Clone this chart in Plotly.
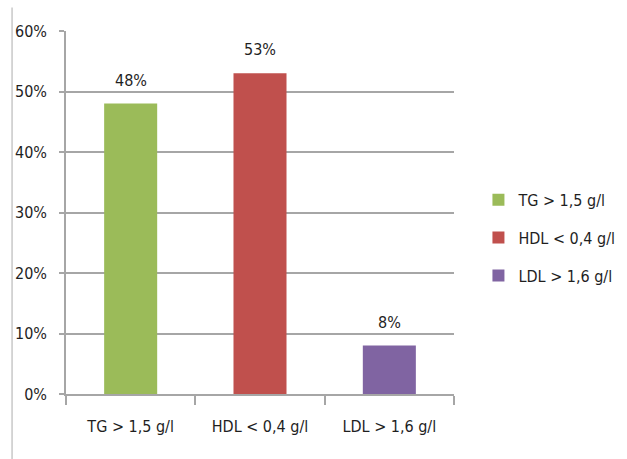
import plotly.graph_objects as go

categories = ["TG > 1,5 g/l", "HDL < 0,4 g/l", "LDL > 1,6 g/l"]
values = [0.48, 0.53, 0.08]
colors = ["#9BBB59", "#C0504D", "#8064A2"]
y_ticks = [0, 0.1, 0.2, 0.3, 0.4, 0.5, 0.6]

FONT = "Liberation Sans Narrow, DejaVu Sans Condensed, Arial Narrow, sans-serif"
TXT = "#1f1f1f"

fig = go.Figure()
for i, (c, v, col) in enumerate(zip(categories, values, colors)):
    fig.add_trace(go.Bar(
        x=[c], y=[v], name=c, marker=dict(color=col, line=dict(width=0)),
        width=0.41, legendgroup=str(i), showlegend=True,
    ))
    fig.add_annotation(x=c, y=v, text=f"{round(v*100)}%", showarrow=False,
                       yanchor="bottom", yshift=12,
                       font=dict(family=FONT, size=16, color=TXT))

fig.update_layout(
    width=627, height=459,
    margin=dict(l=66, r=173, t=31, b=65, autoexpand=False),
    paper_bgcolor="white", plot_bgcolor="white",
    barmode="overlay",
    font=dict(family=FONT, size=16, color=TXT),
    legend=dict(x=1.063, y=0.43, xanchor="left", yanchor="middle",
                traceorder="grouped", tracegroupgap=14,
                itemwidth=30, font=dict(family=FONT, size=16, color=TXT)),
    xaxis=dict(categoryorder="array", categoryarray=categories,
               showline=True, linecolor="#a6a6a6", linewidth=1.5,
               ticks="outside", ticklen=9, tickcolor="#a6a6a6", tickwidth=1.5,
               tickson="boundaries", ticklabelstandoff=17,
               showgrid=False, tickfont=dict(family=FONT, size=16, color=TXT)),
    yaxis=dict(range=[0, 0.6], tickvals=y_ticks, tickformat=".0%",
               showline=True, linecolor="#a6a6a6", linewidth=1.5,
               ticks="outside", ticklen=5, tickcolor="#a6a6a6", tickwidth=1.5,
               ticklabelstandoff=9,
               showgrid=True, gridcolor="#a6a6a6", gridwidth=1.5,
               zeroline=False, tickfont=dict(family=FONT, size=16, color=TXT)),
)

fig.add_shape(type="line", xref="paper", yref="paper",
              x0=-0.139, x1=-0.139, y0=1.065, y1=-0.2,
              line=dict(color="#c8c8c8", width=1.5))

fig.write_html("out.html")
